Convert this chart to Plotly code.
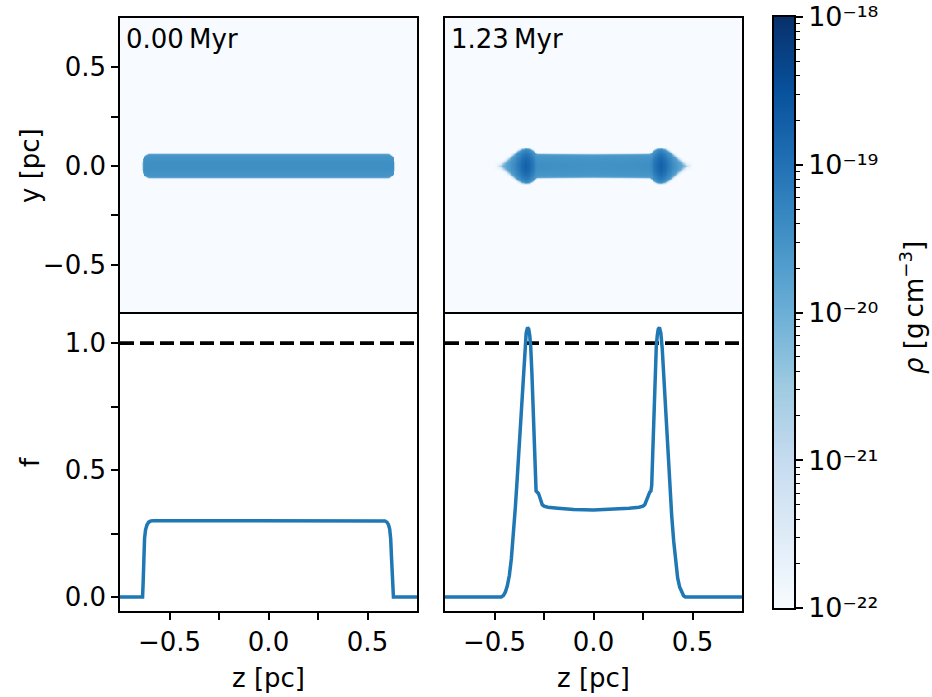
import numpy as np
import plotly.graph_objects as go

# ---------------------------------------------------------------------------
# Line-mass ratio f along the filament axis z [pc]
# ---------------------------------------------------------------------------
z_t0 = [-0.750, -0.636, -0.633, -0.630, -0.626, -0.621, -0.614, -0.605, -0.594, -0.578,
        0.574, 0.588, 0.598, 0.606, 0.612, 0.617, 0.621, 0.625, 0.629, 0.631, 0.750]
f_t0 = [0.000, 0.000, 0.060, 0.160, 0.230, 0.265, 0.284, 0.295, 0.300, 0.301,
        0.301, 0.300, 0.295, 0.285, 0.268, 0.230, 0.160, 0.080, 0.010, 0.000, 0.000]

z_t1 = [-0.750, -0.466, -0.455, -0.445, -0.435, -0.425, -0.415, -0.405, -0.395, -0.385,
        -0.375, -0.365, -0.355, -0.347, -0.340, -0.333, -0.327, -0.322, -0.317, -0.311,
        -0.305, -0.299, -0.294, -0.290, -0.284, -0.278, -0.272, -0.266, -0.259, -0.250,
        -0.230, -0.180, -0.100, 0.000,
        0.100, 0.180, 0.230, 0.250, 0.259, 0.266, 0.272, 0.278, 0.284, 0.290,
        0.294, 0.299, 0.305, 0.311, 0.317, 0.322, 0.327, 0.333, 0.340, 0.347,
        0.355, 0.365, 0.375, 0.385, 0.395, 0.405, 0.415, 0.425, 0.435, 0.445,
        0.455, 0.464, 0.750]
f_t1 = [0.000, 0.000, 0.006, 0.020, 0.045, 0.085, 0.150, 0.240, 0.350, 0.470,
        0.600, 0.740, 0.880, 0.980, 1.040, 1.062, 1.055, 1.030, 0.985, 0.880,
        0.720, 0.560, 0.440, 0.418, 0.413, 0.408, 0.395, 0.378, 0.364, 0.358,
        0.354, 0.350, 0.345, 0.343,
        0.345, 0.350, 0.354, 0.358, 0.364, 0.378, 0.395, 0.408, 0.413, 0.418,
        0.440, 0.560, 0.720, 0.880, 0.985, 1.030, 1.055, 1.062, 1.040, 0.980,
        0.860, 0.710, 0.570, 0.440, 0.320, 0.220, 0.135, 0.075, 0.040, 0.018,
        0.005, 0.000, 0.000]

f_crit = 1.0

# ---------------------------------------------------------------------------
# Density slices: axial profiles vs |z| [pc]
#   radius [pc], log10 rho on the axis, radial fall-off [dex], edge width [pc]
# ---------------------------------------------------------------------------
t0_prof_z = [0.000, 0.597, 0.607, 0.617, 0.625, 0.631, 0.635, 0.637]
t0_prof_r = [0.062, 0.062, 0.061, 0.057, 0.051, 0.043, 0.035, 0.022]
t0_prof_logrho = [-19.45, -19.45, -19.45, -19.45, -19.45, -19.45, -19.45, -19.45]
t0_prof_fall = [0.15, 0.15, 0.15, 0.15, 0.15, 0.15, 0.15, 0.15]
t0_prof_soft = [0.003, 0.003, 0.003, 0.003, 0.003, 0.003, 0.003, 0.003]

t1_prof_z = [0.000, 0.200, 0.285, 0.295, 0.305, 0.320, 0.340, 0.360, 0.380,
             0.400, 0.420, 0.440, 0.460, 0.478]
t1_prof_r = [0.060, 0.061, 0.062, 0.070, 0.080, 0.088, 0.090, 0.087, 0.078,
             0.062, 0.045, 0.029, 0.013, 0.000]
t1_prof_logrho = [-19.50, -19.48, -19.45, -19.30, -19.10, -18.90, -18.75, -18.90, -19.15,
                  -19.40, -19.60, -19.80, -20.10, -20.60]
t1_prof_fall = [0.15, 0.15, 0.20, 0.40, 0.55, 0.65, 0.70, 0.65, 0.50,
                0.35, 0.30, 0.25, 0.20, 0.20]
t1_prof_soft = [0.003, 0.003, 0.003, 0.004, 0.004, 0.004, 0.004, 0.005, 0.006,
                0.007, 0.008, 0.009, 0.011, 0.013]

log_rho_bg = -22.0
log_rho_min, log_rho_max = -22, -18
cbar_exponents = [-22, -21, -20, -19, -18]
cbar_ticktext = ["10\u207b\u00b2\u00b2", "10\u207b\u00b2\u00b9", "10\u207b\u00b2\u2070",
                 "10\u207b\u00b9\u2079", "10\u207b\u00b9\u2078"]
snap_labels = ["0.00\u2009Myr", "1.23\u2009Myr"]

pos_ticks = [-0.5, 0.0, 0.5]
pos_ticktext = ["\u22120.5", "0.0", "0.5"]
pos_minor = [-0.25, 0.25]
f_ticks = [0.0, 0.5, 1.0]
f_ticktext = ["0.0", "0.5", "1.0"]
f_minor = [0.25, 0.75]

# matplotlib "Blues"
blues = ["#f7fbff", "#deebf7", "#c6dbef", "#9ecae1", "#6baed6",
         "#4292c6", "#2171b5", "#08519c", "#08306b"]
cscale = [[i / (len(blues) - 1), c] for i, c in enumerate(blues)]

grid = np.linspace(-0.75, 0.75, 361)


def density_slice(pz, pr, pd, pk, ps):
    Z, Y = np.meshgrid(grid, grid)
    az, ay = np.abs(Z), np.abs(Y)
    R = np.interp(az, pz, pr)
    D = np.interp(az, pz, pd)
    K = np.interp(az, pz, pk)
    S = np.interp(az, pz, ps)
    inner = D - K * np.clip(ay / np.maximum(R, 1e-6), 0, 1) ** 2
    dist = np.maximum(ay - R, az - pz[-1])
    w = 0.5 * (1.0 - np.tanh(dist / S))
    return np.round(log_rho_bg + (inner - log_rho_bg) * w, 3)


rho0 = density_slice(t0_prof_z, t0_prof_r, t0_prof_logrho, t0_prof_fall, t0_prof_soft)
rho1 = density_slice(t1_prof_z, t1_prof_r, t1_prof_logrho, t1_prof_fall, t1_prof_soft)

W, H = 932, 697
FONT = "DejaVu Sans"
FS = 26
LINE_BLUE = "#1f77b4"

fig = go.Figure()

for i, rho in enumerate([rho0, rho1]):
    k = "" if i == 0 else "2"
    fig.add_trace(go.Heatmap(
        x=grid, y=grid, z=rho, colorscale=cscale, zmin=log_rho_min, zmax=log_rho_max,
        showscale=False, hoverinfo="skip", xaxis="x" + k, yaxis="y" + k))

for i, (zz, ff) in enumerate([(z_t0, f_t0), (z_t1, f_t1)]):
    k = "3" if i == 0 else "4"
    fig.add_trace(go.Scatter(
        x=[-0.75, 0.75], y=[f_crit, f_crit], mode="lines",
        line=dict(color="black", width=3.8, dash="14px,6px"),
        xaxis="x" + k, yaxis="y" + k, showlegend=False, hoverinfo="skip"))
    fig.add_trace(go.Scatter(
        x=zz, y=ff, mode="lines", line=dict(color=LINE_BLUE, width=3.5),
        xaxis="x" + k, yaxis="y" + k, showlegend=False))

# colour bar drawn as its own axis so that it can carry log minor ticks
cb_levels = np.linspace(log_rho_min, log_rho_max, 400)
fig.add_trace(go.Heatmap(
    x=[0, 1], y=cb_levels, z=np.repeat(cb_levels[:, None], 2, axis=1),
    colorscale=cscale, zmin=log_rho_min, zmax=log_rho_max, showscale=False,
    hoverinfo="skip", xaxis="x5", yaxis="y5"))

# panel geometry in pixels
colL = (120, 417)
colR = (445, 742)
rowT = (18, 314)
rowB = (314, 611)


def xd(p):
    return [p[0] / W, p[1] / W]


def yd(p):
    return [1 - p[1] / H, 1 - p[0] / H]


frame = dict(showline=True, mirror=True, linecolor="black", linewidth=1.6,
             showgrid=False, zeroline=False, automargin=False)
# top panels: only the upper spine from the x axis, the shared edge comes from below
top_frame = dict(showline=True, mirror=False, side="top", linecolor="black",
                 linewidth=1.6, showgrid=False, zeroline=False, automargin=False)
tickstyle = dict(ticks="outside", ticklen=7, tickwidth=1.6, tickcolor="black",
                 tickfont=dict(family=FONT, size=FS, color="black"),
                 ticklabeloverflow="allow")
noticks = dict(ticks="", showticklabels=False)


def minor(vals, ln=7, wd=1.6):
    return dict(tickvals=vals, ticks="outside", ticklen=ln, tickwidth=wd,
                tickcolor="black")


cbar_ticks = dict(tickstyle)
cbar_ticks["tickfont"] = dict(family=FONT, size=27, color="black")

layout = dict(
    width=W, height=H, margin=dict(l=0, r=0, t=0, b=0, pad=0), autosize=False,
    paper_bgcolor="white", plot_bgcolor="white", showlegend=False,
    font=dict(family=FONT, size=FS, color="black"),
    xaxis=dict(domain=xd(colL), anchor="y", range=[-0.75, 0.75], **top_frame, **noticks),
    yaxis=dict(domain=yd(rowT), anchor="x", range=[-0.75, 0.75], tickvals=pos_ticks,
               ticktext=pos_ticktext, minor=minor(pos_minor), **frame, **tickstyle),
    xaxis2=dict(domain=xd(colR), anchor="y2", range=[-0.75, 0.75], **top_frame, **noticks),
    yaxis2=dict(domain=yd(rowT), anchor="x2", range=[-0.75, 0.75], **frame, **noticks),
    xaxis3=dict(domain=xd(colL), anchor="y3", range=[-0.75, 0.75], tickvals=pos_ticks,
                ticktext=pos_ticktext, minor=minor(pos_minor), **frame, **tickstyle),
    yaxis3=dict(domain=yd(rowB), anchor="x3", range=[-0.055, 1.115], tickvals=f_ticks,
                ticktext=f_ticktext, minor=minor(f_minor), **frame, **tickstyle),
    xaxis4=dict(domain=xd(colR), anchor="y4", range=[-0.75, 0.75], tickvals=pos_ticks,
                ticktext=pos_ticktext, minor=minor(pos_minor), **frame, **tickstyle),
    yaxis4=dict(domain=yd(rowB), anchor="x4", range=[-0.055, 1.115], **frame, **noticks),
    xaxis5=dict(domain=xd((774, 794)), anchor="y5", range=[0, 1], **frame, **noticks),
    yaxis5=dict(domain=yd((17, 608)), anchor="x5", side="right",
                range=[log_rho_min, log_rho_max], tickvals=cbar_exponents,
                ticktext=cbar_ticktext,
                minor=minor([n + np.log10(m) for n in cbar_exponents[:-1]
                             for m in range(2, 10)], ln=4, wd=1.2),
                **frame, **cbar_ticks),
)
fig.update_layout(**layout)

ann = []
for k, lab in zip(["", "2"], snap_labels):
    ann.append(dict(text=lab, xref="x%s domain" % k, yref="y%s domain" % k,
                    x=0.015, y=0.985, xanchor="left", yanchor="top", showarrow=False,
                    font=dict(family=FONT, size=FS, color="black")))
ann += [
    dict(text="y [pc]", xref="paper", yref="paper", x=30 / W, y=1 - 166 / H,
         textangle=-90, showarrow=False, xanchor="center", yanchor="middle"),
    dict(text="f", xref="paper", yref="paper", x=30 / W, y=1 - 462 / H,
         textangle=-90, showarrow=False, xanchor="center", yanchor="middle"),
    dict(text="z [pc]", xref="paper", yref="paper", x=268 / W, y=1 - 678 / H,
         showarrow=False, xanchor="center", yanchor="middle"),
    dict(text="z [pc]", xref="paper", yref="paper", x=593.5 / W, y=1 - 678 / H,
         showarrow=False, xanchor="center", yanchor="middle"),
    dict(text="<i>\u03c1</i> [g\u2009cm<sup>\u22123</sup>]", xref="paper", yref="paper",
         x=912 / W, y=1 - 308 / H, textangle=-90, showarrow=False,
         xanchor="center", yanchor="middle"),
]
fig.update_layout(annotations=ann)

fig.write_html("out.html")
